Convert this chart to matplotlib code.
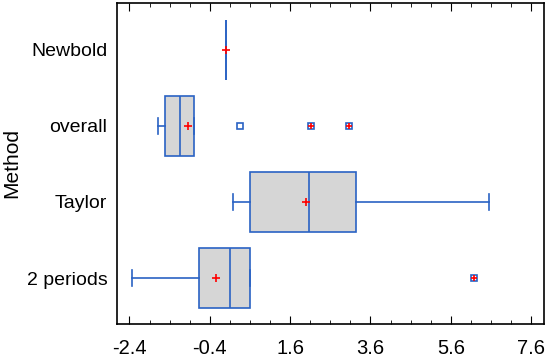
import numpy as np
import matplotlib.pyplot as plt
from matplotlib.ticker import FixedLocator

plt.rcParams['font.family'] = ['Liberation Sans', 'DejaVu Sans']

# box summary per method (bottom to top)
methods = ['2 periods', 'Taylor', 'overall', 'Newbold']
whislo = [-2.34, 0.19, -1.68, 0.0]
q1 = [-0.67, 0.61, -1.52, 0.0]
med = [0.10, 2.06, -1.13, 0.0]
means = [-0.24, 1.99, -0.95, 0.0]
q3 = [0.59, 3.23, -0.79, 0.0]
whishi = [0.59, 6.55, -0.79, 0.0]
# outside points and far outside points
outside = [[], [], [0.35], []]
far_out = [[6.17], [], [2.13, 3.07], []]

stats = []
for i in range(len(methods)):
    stats.append(dict(label=methods[i], whislo=whislo[i], q1=q1[i], med=med[i],
                      mean=means[i], q3=q3[i], whishi=whishi[i],
                      fliers=outside[i] + far_out[i]))

blue = '#2a62c4'
fig = plt.figure(figsize=(5.5, 3.6), dpi=100)
ax = fig.add_axes([0.2127, 0.1, 0.7764, 0.8917])

pos = np.arange(1, len(methods) + 1)
ax.bxp(stats, positions=pos, widths=0.8, orientation='horizontal',
       patch_artist=True, showmeans=True, capwidths=0.21,
       boxprops=dict(facecolor='#d6d6d6', edgecolor=blue, linewidth=1.2),
       medianprops=dict(color=blue, linewidth=1.2),
       whiskerprops=dict(color=blue, linewidth=1.2),
       capprops=dict(color=blue, linewidth=1.2),
       meanprops=dict(marker='+', markeredgecolor='red', markersize=5.5,
                      markeredgewidth=1.2),
       flierprops=dict(marker='s', markerfacecolor='white',
                       markeredgecolor=blue, markersize=4, markeredgewidth=1.2))

# far outside points get a red plus on top of the square
for p, vals in zip(pos, far_out):
    if vals:
        ax.plot(vals, [p] * len(vals), ls='none', marker='+', color='red',
                markersize=5, markeredgewidth=1.2)

ax.set_xlim(-2.71, 7.92)
ax.set_ylim(0.395, 4.618)
ax.set_xticks(np.arange(-2.4, 7.7, 2.0))
ax.set_xticklabels(['-2.4', '-0.4', '1.6', '3.6', '5.6', '7.6'])
ax.xaxis.set_minor_locator(FixedLocator(np.arange(-2.4, 7.7, 0.5)))
ax.tick_params(axis='x', which='both', direction='in', top=True, labelsize=14.5)
ax.tick_params(axis='x', which='major', length=6, pad=11)
ax.tick_params(axis='x', which='minor', length=3)
ax.tick_params(axis='y', length=0, labelsize=14, pad=7)
ax.set_ylabel('Method', fontsize=15)
ax.yaxis.set_label_coords(-0.225, 0.5)
for s in ax.spines.values():
    s.set_linewidth(1.2)

fig.savefig('out.png', dpi=100)
